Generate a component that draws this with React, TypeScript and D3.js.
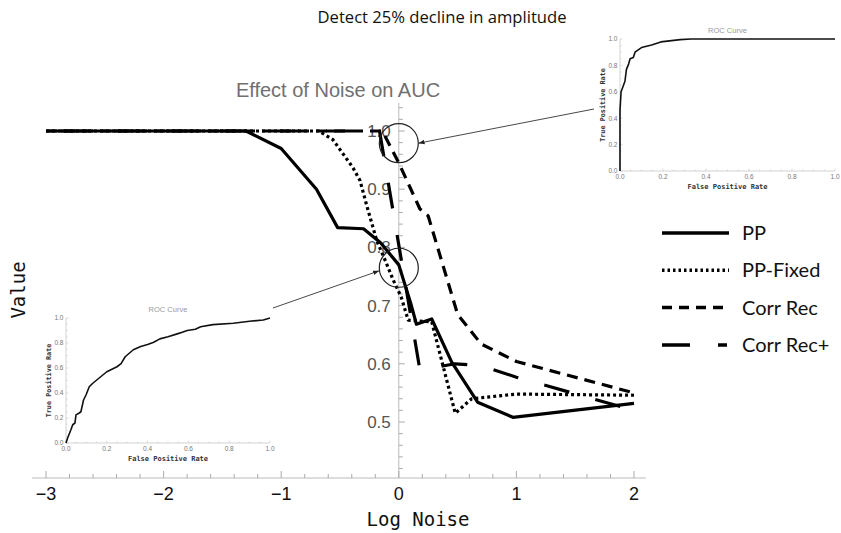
import React from "react";
import * as d3 from "d3";

// ---- data ----
const xTickValues = [-3, -2, -1, 0, 1, 2];
const yTickValues = [0.5, 0.6, 0.7, 0.8, 0.9, 1.0];
const seriesNames = ["PP", "PP-Fixed", "Corr Rec", "Corr Rec+"];

const ppX = [-3, -1.3, -1, -0.7, -0.52, -0.3, -0.155, 0, 0.1, 0.15, 0.28, 0.45, 0.67, 0.97, 2];
const ppY = [1, 1, 0.97, 0.9, 0.834, 0.832, 0.808, 0.77, 0.705, 0.668, 0.677, 0.603, 0.534, 0.508, 0.532];

const ppFixedX = [-3, -0.68, -0.56, -0.39, -0.33, -0.27, -0.185, -0.11, -0.05, 0.02, 0.08, 0.28, 0.48, 0.62, 1, 2];
const ppFixedY = [1, 1, 0.985, 0.937, 0.915, 0.87, 0.81, 0.775, 0.745, 0.715, 0.675, 0.672, 0.515, 0.54, 0.548, 0.546];

const corrRecX = [-3, -0.14, 0, 0.18, 0.25, 0.5, 0.7, 1, 2];
const corrRecY = [1, 1, 0.945, 0.866, 0.854, 0.685, 0.634, 0.604, 0.55];

const corrRecPlusX = [-3, -0.164, 0.18, 0.477, 0.699, 1, 2];
const corrRecPlusY = [1, 1, 0.589, 0.6, 0.597, 0.577, 0.52];

// ROC inset curves (FPR, TPR)
const roc1Fpr = [0, 0, 0.005, 0.012, 0.023, 0.03, 0.04, 0.047, 0.062, 0.07, 0.078, 0.1, 0.147, 0.19, 0.28, 0.33, 0.5, 1];
const roc1Tpr = [0, 0.46, 0.6, 0.63, 0.68, 0.77, 0.81, 0.85, 0.86, 0.9, 0.91, 0.935, 0.955, 0.978, 0.995, 1, 1, 1];

const roc2Fpr = [0, 0.008, 0.024, 0.033, 0.044, 0.049, 0.065, 0.073, 0.086, 0.098, 0.114, 0.13, 0.17, 0.2, 0.25, 0.27, 0.29, 0.33, 0.366, 0.4, 0.43, 0.46, 0.5, 0.545, 0.57, 0.594, 0.634, 0.66, 0.72, 0.82, 0.9, 0.967, 0.984, 1];
const roc2Tpr = [0, 0.04, 0.106, 0.146, 0.16, 0.225, 0.24, 0.25, 0.344, 0.384, 0.45, 0.476, 0.53, 0.57, 0.61, 0.635, 0.69, 0.746, 0.772, 0.788, 0.806, 0.833, 0.85, 0.873, 0.886, 0.9, 0.91, 0.93, 0.947, 0.958, 0.974, 0.984, 0.992, 1];

const rocTicks = [0, 0.2, 0.4, 0.6, 0.8, 1.0];

// annotation circles (data coords)
const circleX = [0, 0];
const circleY = [0.979, 0.765];

// ---- styles ----
const W = 841;
const H = 533;
const dashes = ["", "3,3", "11,7", "26,27"];
const dashOffsets = [0, 0, 0, 38];
const legendDashes = ["", "2.5,3", "10,7", "28,28,9,100"];
const monoFont = "'DejaVu Sans Mono', monospace";
const sansFont = "'Liberation Sans', Arial, sans-serif";

const x = d3.scaleLinear().domain([-3, 2]).range([46, 634]);
const y = d3.scaleLinear().domain([0.5, 1]).range([422, 131]);

type Pt = [number, number];

function Inset({ x0, x1, y0, y1, fpr, tpr }: { x0: number; x1: number; y0: number; y1: number; fpr: number[]; tpr: number[] }) {
  const sx = d3.scaleLinear().domain([0, 1]).range([x0, x1]);
  const sy = d3.scaleLinear().domain([0, 1]).range([y0, y1]);
  const pts: Pt[] = fpr.map((f, i) => [f, tpr[i]]);
  const ln = d3.line<Pt>().x((d) => sx(d[0])).y((d) => sy(d[1]));
  const minor = d3.range(0, 1.0001, 0.05);
  return (
    <g>
      <line x1={sx(0)} x2={sx(1)} y1={sy(0)} y2={sy(0)} stroke="#c8c8c8" strokeWidth={0.8} />
      <line x1={sx(0)} x2={sx(0)} y1={sy(0)} y2={sy(1)} stroke="#c8c8c8" strokeWidth={0.8} />
      {minor.map((t, i) => (
        <g key={i}>
          <line x1={sx(t)} x2={sx(t)} y1={sy(0)} y2={sy(0) - (i % 4 === 0 ? 2.5 : 1.5)} stroke="#c8c8c8" strokeWidth={0.6} />
          <line x1={sx(0)} x2={sx(0) + (i % 4 === 0 ? 2.5 : 1.5)} y1={sy(t)} y2={sy(t)} stroke="#c8c8c8" strokeWidth={0.6} />
        </g>
      ))}
      {rocTicks.map((t) => (
        <g key={t}>
          <text x={sx(t)} y={sy(0) + 8} fontSize={6.5} fill="#777" textAnchor="middle" fontFamily={sansFont}>
            {t.toFixed(1)}
          </text>
          <text x={sx(0) - 2.5} y={sy(t) + 2.3} fontSize={6.5} fill="#777" textAnchor="end" fontFamily={sansFont}>
            {t.toFixed(1)}
          </text>
        </g>
      ))}
      <text x={(sx(0) + sx(1)) / 2} y={sy(1) - 6} fontSize={7.5} fill="#999" textAnchor="middle" fontFamily={sansFont}>
        ROC Curve
      </text>
      <text x={(sx(0) + sx(1)) / 2} y={sy(0) + 18} fontSize={7} fill="#333" fontWeight="bold" textAnchor="middle" fontFamily={monoFont}>
        False Positive Rate
      </text>
      <text
        transform={`translate(${sx(0) - 15},${(sy(0) + sy(1)) / 2}) rotate(-90)`}
        fontSize={6.8}
        fill="#333"
        fontWeight="bold"
        textAnchor="middle"
        fontFamily={monoFont}
      >
        True Positive Rate
      </text>
      <path d={ln(pts) || ""} fill="none" stroke="#111" strokeWidth={1.6} strokeLinejoin="round" />
    </g>
  );
}

export default function App() {
  const seriesX = [ppX, ppFixedX, corrRecX, corrRecPlusX];
  const seriesY = [ppY, ppFixedY, corrRecY, corrRecPlusY];
  const line = d3.line<Pt>().x((d) => x(d[0])).y((d) => y(d[1]));

  const xMinor = d3.range(-3, 2.0001, 0.2);
  const axisY = 478;
  const yBottom = y.invert(axisY);
  const yMinor = d3.range(0.42, 1.0401, 0.02);
  const axisX = x(0);

  const c1: Pt = [x(circleX[0]), y(circleY[0])];
  const c2: Pt = [x(circleX[1]), y(circleY[1])];
  const r = 19.5;

  return (
    <svg width={W} height={H} style={{ position: "absolute", left: 0, top: 0, background: "#fff" }}>
      <defs>
        <marker id="ah" viewBox="0 0 10 10" refX={10} refY={5} markerWidth={7} markerHeight={7} orient="auto">
          <path d="M0,1.5 L10,5 L0,8.5 z" fill="#222" />
        </marker>
      </defs>
      <rect width={W} height={H} fill="#fff" />

      {/* top caption */}
      <text x={442} y={23} fontSize={16} textAnchor="middle" fontFamily="'Open Sans', sans-serif" fill="#111" textLength={249} lengthAdjust="spacingAndGlyphs">
        Detect 25% decline in amplitude
      </text>

      {/* plot title */}
      <text x={338} y={97} fontSize={20} textAnchor="middle" fontFamily={sansFont} fill="#707070">
        Effect of Noise on AUC
      </text>

      {/* axes */}
      <line x1={x(-3.12)} x2={x(2.1)} y1={axisY} y2={axisY} stroke="#bbb" strokeWidth={1} />
      <line x1={axisX} x2={axisX} y1={y(yBottom)} y2={y(1.048)} stroke="#bbb" strokeWidth={1} />
      {xMinor.map((t, i) => {
        const major = Math.abs(t - Math.round(t)) < 1e-6;
        return <line key={i} x1={x(t)} x2={x(t)} y1={axisY} y2={axisY - (major ? 7 : 4)} stroke="#aaa" strokeWidth={1} />;
      })}
      {yMinor.map((t, i) => {
        const major = Math.abs(t * 10 - Math.round(t * 10)) < 1e-6;
        return <line key={i} x1={axisX} x2={axisX + (major ? 6 : 4)} y1={y(t)} y2={y(t)} stroke="#aaa" strokeWidth={1} />;
      })}
      {xTickValues.map((t) => (
        <text key={t} x={x(t)} y={500} fontSize={18} textAnchor="middle" fontFamily={sansFont} fill="#111">
          {t < 0 ? `\u2212${Math.abs(t)}` : `${t}`}
        </text>
      ))}
      {yTickValues.map((t) => (
        <text key={t} x={axisX - 8} y={y(t) + 6} fontSize={17} textAnchor="end" fontFamily={sansFont} fill="#555">
          {t.toFixed(1)}
        </text>
      ))}
      <text x={418} y={526} fontSize={19} textAnchor="middle" fontFamily={monoFont} fill="#111">
        Log Noise
      </text>
      <text transform="translate(25,290) rotate(-90)" fontSize={19} textAnchor="middle" fontFamily={monoFont} fill="#111">
        Value
      </text>

      {/* series */}
      {seriesNames.map((n, i) => {
        const pts: Pt[] = seriesX[i].map((v, j) => [v, seriesY[i][j]]);
        return (
          <path
            key={n}
            d={line(pts) || ""}
            fill="none"
            stroke="#000"
            strokeWidth={3.2}
            strokeDasharray={dashes[i] || undefined}
            strokeDashoffset={dashOffsets[i]}
            strokeLinejoin="round"
          />
        );
      })}

      {/* legend */}
      {seriesNames.map((n, i) => {
        const ly = 233 + i * 37.3;
        return (
          <g key={n}>
            <line x1={662} x2={729} y1={ly} y2={ly} stroke="#000" strokeWidth={3.5} strokeDasharray={legendDashes[i] || undefined} />
            <text x={742} y={ly + 7} fontSize={20} fontFamily="Lato, 'Open Sans', sans-serif" fill="#111">
              {n}
            </text>
          </g>
        );
      })}

      {/* insets */}
      <Inset x0={620} x1={835} y0={171} y1={39} fpr={roc1Fpr} tpr={roc1Tpr} />
      <Inset x0={66} x1={270} y0={443} y1={318} fpr={roc2Fpr} tpr={roc2Tpr} />

      {/* annotation circles & arrows */}
      <circle cx={c1[0]} cy={c1[1]} r={r} fill="none" stroke="#222" strokeWidth={1.2} />
      <circle cx={c2[0]} cy={c2[1]} r={r} fill="none" stroke="#222" strokeWidth={1.2} />
      <line x1={594} y1={109} x2={c1[0] + r} y2={c1[1]} stroke="#333" strokeWidth={0.9} markerEnd="url(#ah)" />
      <line x1={273} y1={308} x2={c2[0] - r} y2={c2[1] + 3} stroke="#333" strokeWidth={0.9} markerEnd="url(#ah)" />
    </svg>
  );
}
